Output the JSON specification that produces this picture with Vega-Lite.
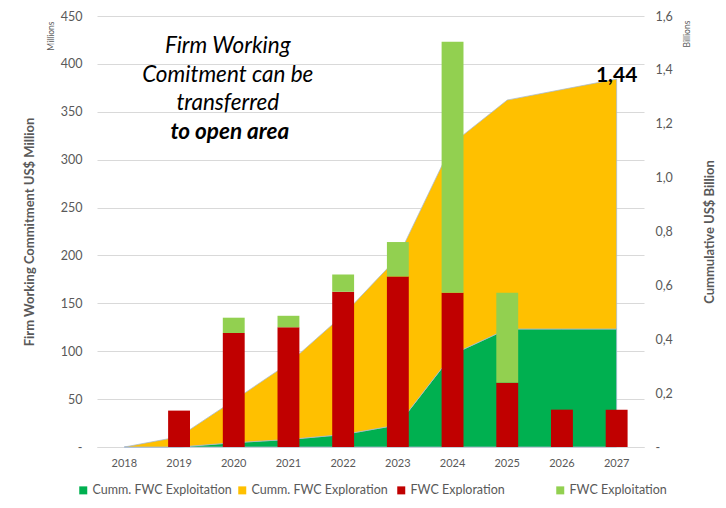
{
  "$schema": "https://vega.github.io/schema/vega-lite/v6.json",
  "width": 547,
  "height": 431,
  "autosize": {"type": "none"},
  "padding": {"left": 97, "top": 16, "right": 82, "bottom": 61},
  "background": "white",
  "config": {
    "font": "Lato",
    "view": {"stroke": null},
    "axis": {
      "labelFont": "Lato",
      "titleFont": "Lato",
      "labelColor": "#595959",
      "titleColor": "#595959",
      "ticks": false,
      "domain": false,
      "gridColor": "#D9D9D9",
      "gridWidth": 1
    }
  },
  "datasets": {
    "bars": [
      {"year": "2019", "series": "FWC Exploration", "value": 38},
      {"year": "2020", "series": "FWC Exploration", "value": 119},
      {"year": "2020", "series": "FWC Exploitation", "value": 16},
      {"year": "2021", "series": "FWC Exploration", "value": 125},
      {"year": "2021", "series": "FWC Exploitation", "value": 12},
      {"year": "2022", "series": "FWC Exploration", "value": 162},
      {"year": "2022", "series": "FWC Exploitation", "value": 18},
      {"year": "2023", "series": "FWC Exploration", "value": 178},
      {"year": "2023", "series": "FWC Exploitation", "value": 36},
      {"year": "2024", "series": "FWC Exploration", "value": 161},
      {"year": "2024", "series": "FWC Exploitation", "value": 262},
      {"year": "2025", "series": "FWC Exploration", "value": 67},
      {"year": "2025", "series": "FWC Exploitation", "value": 94},
      {"year": "2026", "series": "FWC Exploration", "value": 39},
      {"year": "2027", "series": "FWC Exploration", "value": 39}
    ],
    "areas": [
      {"year": "2018", "series": "Cumm. FWC Exploitation", "value": 0},
      {"year": "2019", "series": "Cumm. FWC Exploitation", "value": 0},
      {"year": "2020", "series": "Cumm. FWC Exploitation", "value": 0.016},
      {"year": "2021", "series": "Cumm. FWC Exploitation", "value": 0.028},
      {"year": "2022", "series": "Cumm. FWC Exploitation", "value": 0.046},
      {"year": "2023", "series": "Cumm. FWC Exploitation", "value": 0.082},
      {"year": "2024", "series": "Cumm. FWC Exploitation", "value": 0.344},
      {"year": "2025", "series": "Cumm. FWC Exploitation", "value": 0.438},
      {"year": "2026", "series": "Cumm. FWC Exploitation", "value": 0.438},
      {"year": "2027", "series": "Cumm. FWC Exploitation", "value": 0.438},
      {"year": "2018", "series": "Cumm. FWC Exploration", "value": 0},
      {"year": "2019", "series": "Cumm. FWC Exploration", "value": 0.038},
      {"year": "2020", "series": "Cumm. FWC Exploration", "value": 0.157},
      {"year": "2021", "series": "Cumm. FWC Exploration", "value": 0.282},
      {"year": "2022", "series": "Cumm. FWC Exploration", "value": 0.444},
      {"year": "2023", "series": "Cumm. FWC Exploration", "value": 0.622},
      {"year": "2024", "series": "Cumm. FWC Exploration", "value": 0.783},
      {"year": "2025", "series": "Cumm. FWC Exploration", "value": 0.85},
      {"year": "2026", "series": "Cumm. FWC Exploration", "value": 0.889},
      {"year": "2027", "series": "Cumm. FWC Exploration", "value": 0.928}
    ]
  },
  "layer": [
    {
      "layer": [
        {
          "data": {"name": "areas"},
          "mark": {"type": "area", "stroke": "#A6B9D4", "strokeWidth": 0.75},
          "encoding": {
            "x": {
              "field": "year", "type": "ordinal", "bandPosition": 0.5,
              "scale": {"domain": ["2018","2019","2020","2021","2022","2023","2024","2025","2026","2027"], "paddingInner": 0.6, "paddingOuter": 0.3},
              "axis": {"title": null, "labelAngle": 0, "domain": true, "domainColor": "#D9D9D9", "labelFontSize": 11, "labelPadding": 10, "grid": false}
            },
            "y": {
              "field": "value", "type": "quantitative", "stack": "zero",
              "scale": {"domain": [0, 1.6], "nice": false},
              "axis": {
                "orient": "right", "title": "Cummulative US$ Billion",
                "values": [0, 0.2, 0.4, 0.6, 0.8, 1.0, 1.2, 1.4, 1.6],
                "labelExpr": "datum.value == 0 ? '-' : replace(format(datum.value, '.1f'), '.', ',')",
                "grid": false, "labelPadding": 11, "titlePadding": 31,
                "titleAngle": 270, "titleBaseline": "top",
                "titleFontSize": 13, "titleFontWeight": "bold", "labelFontSize": 12.5
              }
            },
            "color": {
              "field": "series", "type": "nominal",
              "scale": {
                "domain": ["Cumm. FWC Exploitation", "Cumm. FWC Exploration", "FWC Exploration", "FWC Exploitation"],
                "range": ["#00B050", "#FFC000", "#C00000", "#92D050"]
              },
              "legend": {
                "orient": "none", "legendX": -20, "legendY": 468, "direction": "horizontal",
                "columns": 4, "gridAlign": "all", "columnPadding": 4,
                "symbolType": "square", "symbolSize": 64, "symbolStrokeWidth": 0,
                "labelFontSize": 12.5, "labelColor": "#595959", "labelLimit": 220,
                "labelOffset": 3, "title": null
              }
            },
            "order": {"field": "series", "sort": "ascending"}
          }
        },
        {
          "data": {"values": [{"label": "1,44"}]},
          "mark": {"type": "text", "fontSize": 21, "fontWeight": "bold", "color": "black", "baseline": "alphabetic", "align": "center", "dy": 3},
          "encoding": {
            "x": {"datum": "2027", "type": "ordinal", "bandPosition": 0.5},
            "y": {"datum": 1.366, "type": "quantitative"},
            "text": {"field": "label"}
          }
        },
        {
          "data": {"values": [{"label": "Billions"}]},
          "mark": {"type": "text", "fontSize": 8.5, "color": "#595959", "angle": 270, "align": "center", "baseline": "middle", "dy": 70},
          "encoding": {
            "x": {"datum": "2027", "type": "ordinal", "bandPosition": 0.5},
            "y": {"datum": 1.533, "type": "quantitative"},
            "text": {"field": "label"}
          }
        }
      ]
    },
    {
      "layer": [
        {
          "data": {"name": "bars"},
          "mark": {"type": "bar"},
          "encoding": {
            "x": {
              "field": "year", "type": "ordinal",
              "scale": {"domain": ["2018","2019","2020","2021","2022","2023","2024","2025","2026","2027"], "paddingInner": 0.6, "paddingOuter": 0.3},
              "axis": {"title": null, "labelAngle": 0, "domain": true, "domainColor": "#D9D9D9", "labelFontSize": 11, "labelPadding": 10, "grid": false}
            },
            "y": {
              "field": "value", "type": "quantitative", "stack": "zero",
              "scale": {"domain": [0, 450], "nice": false},
              "axis": {
                "orient": "left", "title": "Firm Working Commitment US$ Million",
                "values": [0, 50, 100, 150, 200, 250, 300, 350, 400, 450],
                "labelExpr": "datum.value == 0 ? '-' : datum.label",
                "grid": true, "labelPadding": 15, "titlePadding": 24,
                "titleFontSize": 13, "titleFontWeight": "bold", "labelFontSize": 12.5
              }
            },
            "color": {
              "field": "series", "type": "nominal",
              "scale": {
                "domain": ["Cumm. FWC Exploitation", "Cumm. FWC Exploration", "FWC Exploration", "FWC Exploitation"],
                "range": ["#00B050", "#FFC000", "#C00000", "#92D050"]
              },
              "legend": {
                "orient": "none", "legendX": -20, "legendY": 468, "direction": "horizontal",
                "columns": 4, "gridAlign": "all", "columnPadding": 4,
                "symbolType": "square", "symbolSize": 64, "symbolStrokeWidth": 0,
                "labelFontSize": 12.5, "labelColor": "#595959", "labelLimit": 220,
                "labelOffset": 3, "title": null
              }
            },
            "order": {"field": "series", "sort": "descending"}
          }
        },
        {
          "data": {"values": [{"label": "Firm Working\nComitment can be\ntransferred"}]},
          "mark": {"type": "text", "fontSize": 22.5, "fontStyle": "italic", "color": "black", "baseline": "alphabetic", "align": "center", "lineBreak": "\n", "lineHeight": 28.7, "dx": -6},
          "encoding": {
            "x": {"datum": "2020", "type": "ordinal", "bandPosition": 0.5},
            "y": {"datum": 411.4, "type": "quantitative"},
            "text": {"field": "label"}
          }
        },
        {
          "data": {"values": [{"label": "to open area"}]},
          "mark": {"type": "text", "fontSize": 22.5, "fontStyle": "italic", "fontWeight": "bold", "color": "black", "baseline": "alphabetic", "align": "center", "dx": -4},
          "encoding": {
            "x": {"datum": "2020", "type": "ordinal", "bandPosition": 0.5},
            "y": {"datum": 321.6, "type": "quantitative"},
            "text": {"field": "label"}
          }
        },
        {
          "data": {"values": [{"label": "Millions"}]},
          "mark": {"type": "text", "fontSize": 8.5, "color": "#595959", "angle": 270, "align": "center", "baseline": "middle", "dy": -73},
          "encoding": {
            "x": {"datum": "2018", "type": "ordinal", "bandPosition": 0.5},
            "y": {"datum": 429, "type": "quantitative"},
            "text": {"field": "label"}
          }
        }
      ]
    }
  ],
  "resolve": {"scale": {"y": "independent"}}
}
